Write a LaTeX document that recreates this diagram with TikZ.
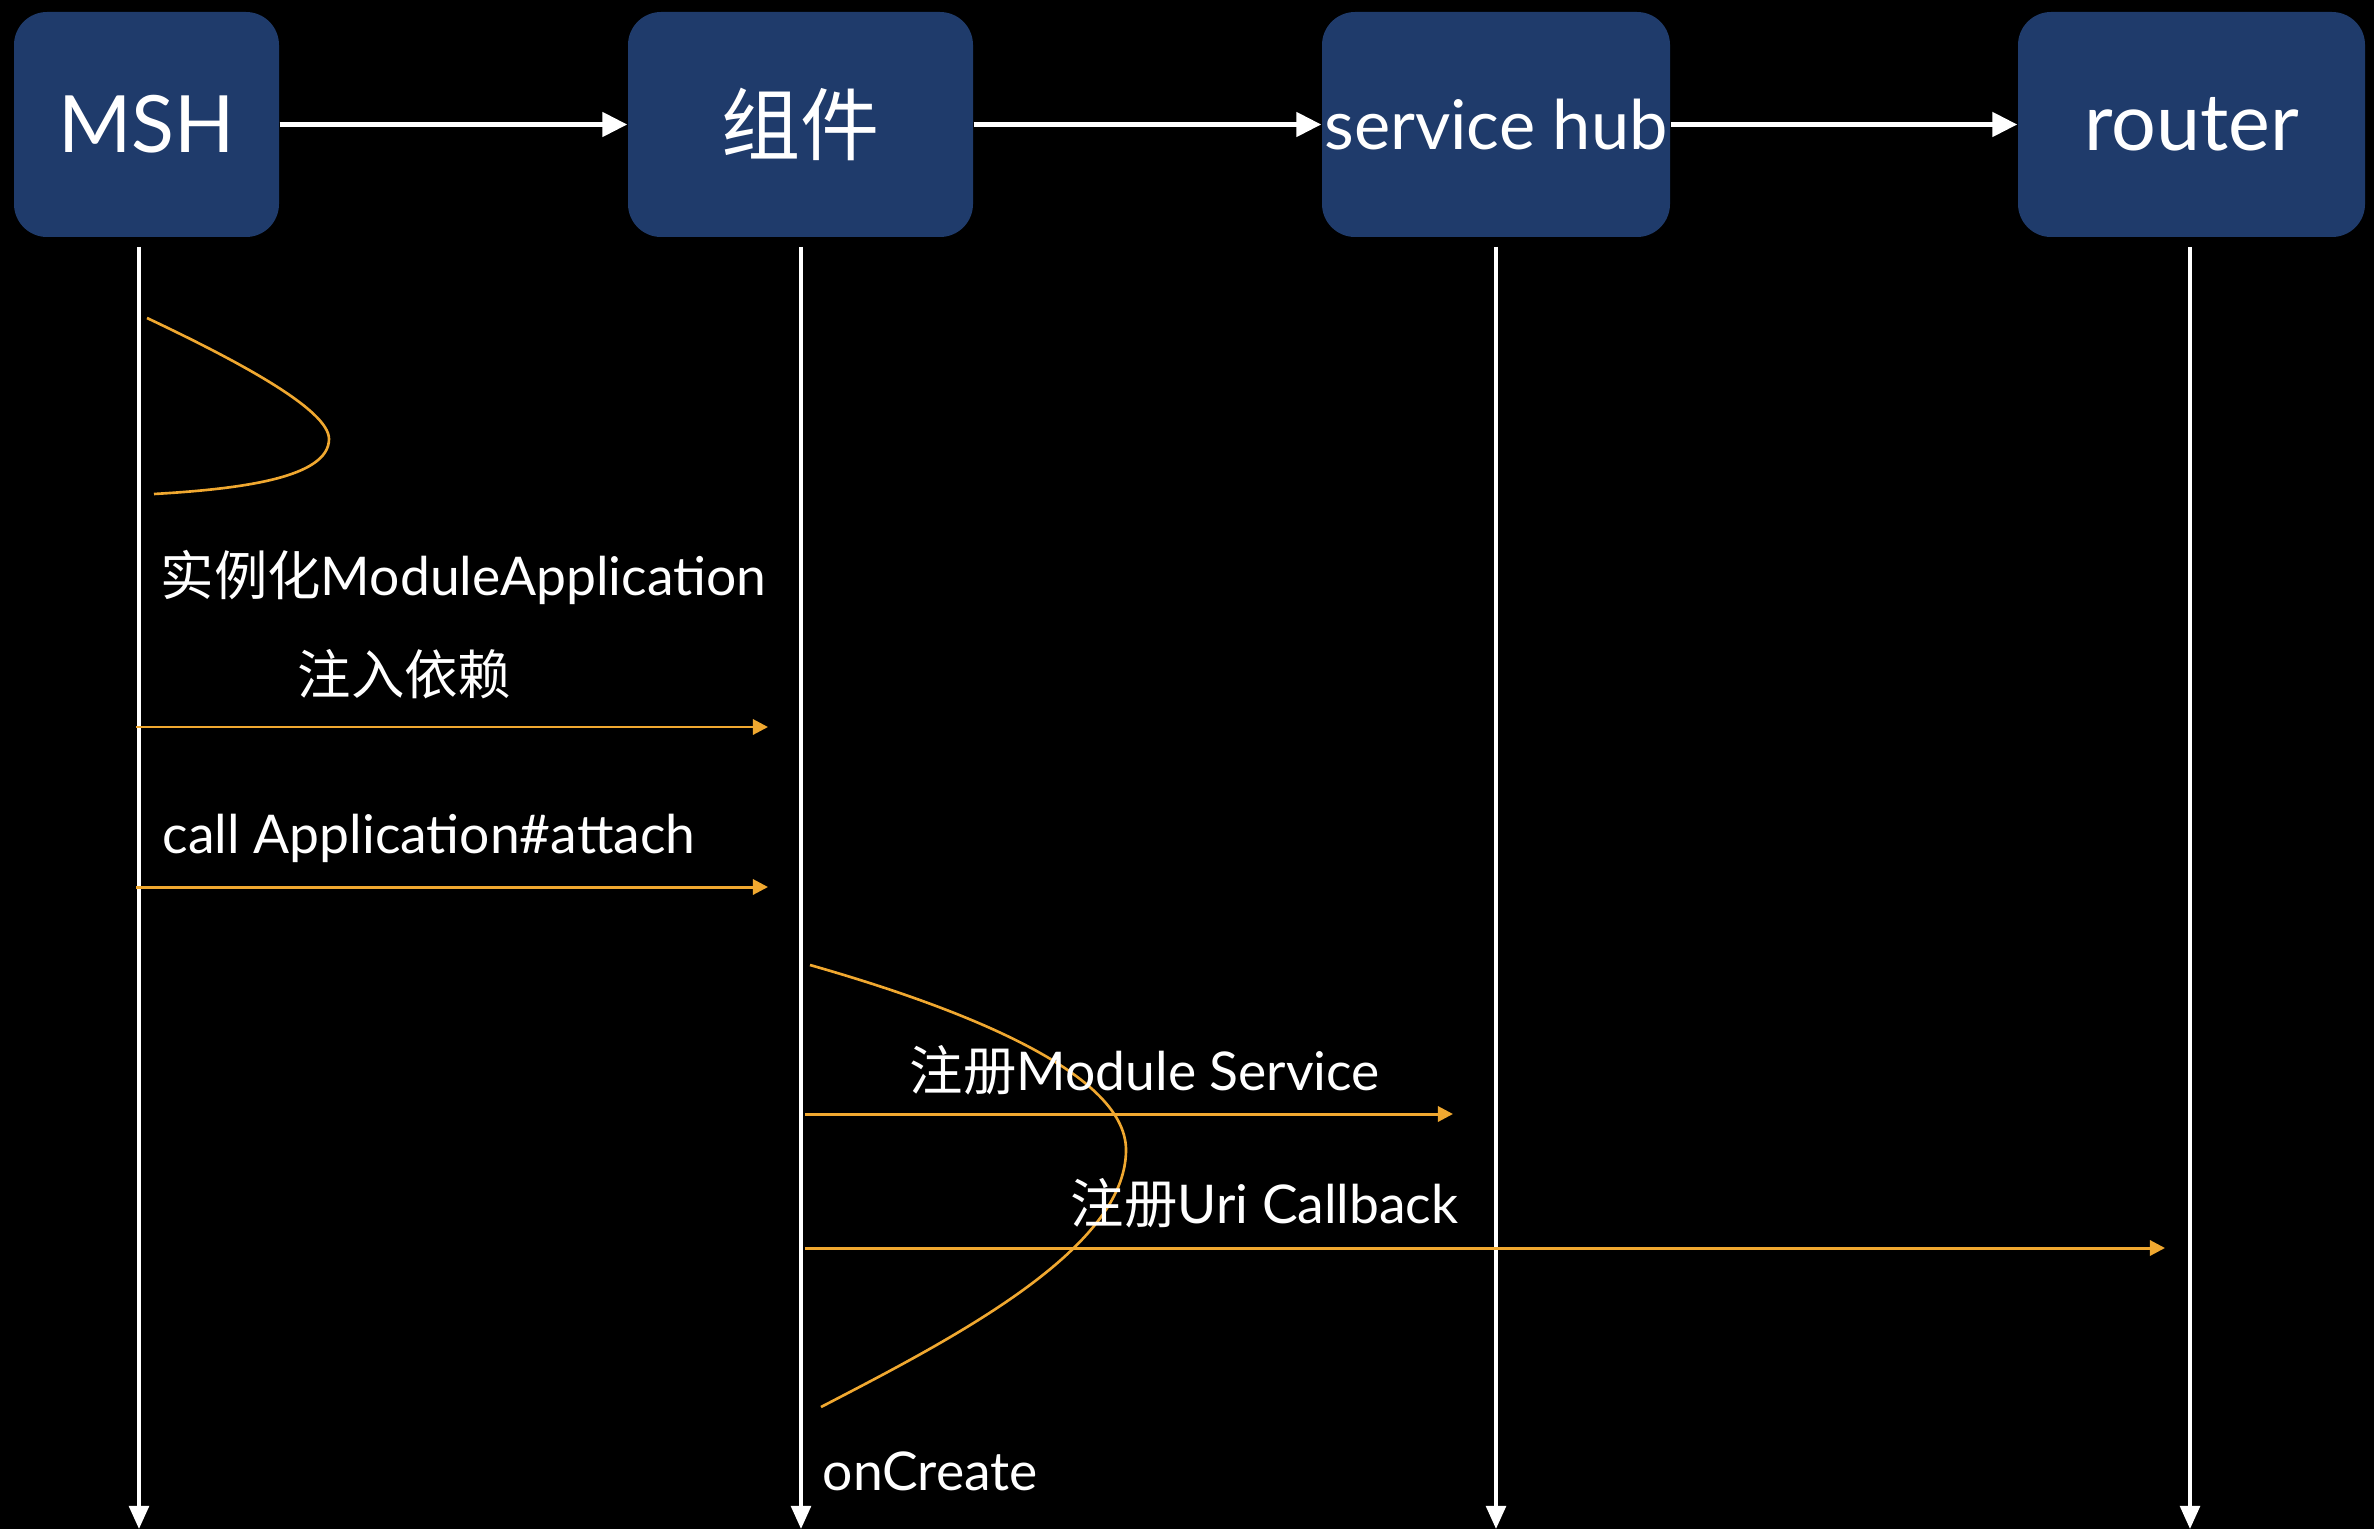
\documentclass[tikz,border=0pt]{standalone}
\usepackage{fontspec}
\setmainfont{Lato}
\newfontfamily\cjk{Noto Sans CJK SC}
\usetikzlibrary{arrows.meta}
\definecolor{boxblue}{RGB}{31,59,107}
\definecolor{msgorange}{RGB}{240,168,48}

\begin{document}
\begin{tikzpicture}[x=0.1mm,y=-0.1mm,
  actor/.style={fill=boxblue,rounded corners=3.3mm,minimum height=22.5mm,text=white,inner sep=0pt,font=\fontsize{22.5}{26}\selectfont},
  link/.style={white,line width=1.42pt,-{Triangle[length=7.1pt,width=6.8pt]}},
  life/.style={white,line width=1.1pt,-{Triangle[length=6.6pt,width=5.6pt]}},
  msg/.style={msgorange,line width=0.85pt,-{Triangle[length=4.3pt,width=4.3pt]}},
  loopback/.style={msgorange,line width=0.75pt},
  lbl/.style={text=white,anchor=base west,inner sep=0pt,font=\fontsize{15.2}{18}\selectfont}]
  \fill[black] (0,0) rectangle (2374,1529);
  \useasboundingbox (0,0) rectangle (2374,1529);

  \node[actor,minimum width=26.5mm] (msh) at (146.5,124.5) {MSH};
  \node[actor,minimum width=34.5mm] (comp) at (800.5,124.5) {\cjk 组件};
  \node[actor,minimum width=34.8mm] (hub) at (1496,124.5) {\fontsize{19.5}{24}\selectfont service hub};
  \node[actor,minimum width=34.7mm] (router) at (2191.5,124.5) {router};

  \draw[link] (msh.east) -- (comp.west);
  \draw[link] (comp.east) -- (hub.west);
  \draw[link] (hub.east) -- (router.west);

  \coordinate (mshtop) at (139,247);
  \coordinate (mshbot) at (139,1529);
  \coordinate (comptop) at (801,247);
  \coordinate (compbot) at (801,1529);
  \coordinate (hubtop) at (1496,247);
  \coordinate (hubbot) at (1496,1529);
  \coordinate (routertop) at (2190,247);
  \coordinate (routerbot) at (2190,1529);
  \draw[life] (mshtop) -- (mshbot);
  \draw[life] (comptop) -- (compbot);
  \draw[life] (hubtop) -- (hubbot);
  \draw[life] (routertop) -- (routerbot);

  \draw[loopback] (147,318) .. controls (240,362) and (329,410) .. (329,439)
    .. controls (329,478) and (240,489) .. (154,494);
  \draw[loopback] (810,965) .. controls (950,1005) and (1126,1070) .. (1126,1150)
    .. controls (1126,1250) and (950,1340) .. (821,1407);

  \node[lbl] (inst) at (160,595) {{\cjk 实例化}ModuleApplication};
  \node[lbl] (inject) at (297,694) {\cjk 注入依赖};
  \node[lbl] (attach) at (162,853) {call Application\#attach};
  \node[lbl] (regsvc) at (909,1090) {{\cjk 注册}Module Service};
  \node[lbl] (regcb) at (1070,1223) {{\cjk 注册}Uri Callback};
  \node[lbl] (create) at (822,1490) {onCreate};

  \coordinate (injecta) at (136,727);
  \coordinate (injectb) at (768,727);
  \coordinate (attacha) at (136,887);
  \coordinate (attachb) at (768,887);
  \coordinate (regsvca) at (805,1114);
  \coordinate (regsvcb) at (1453,1114);
  \coordinate (regcba) at (805,1248);
  \coordinate (regcbb) at (2165,1248);
  \draw[msg] (injecta) -- (injectb);
  \draw[msg] (attacha) -- (attachb);
  \draw[msg] (regsvca) -- (regsvcb);
  \draw[msg] (regcba) -- (regcbb);
\end{tikzpicture}
\end{document}
